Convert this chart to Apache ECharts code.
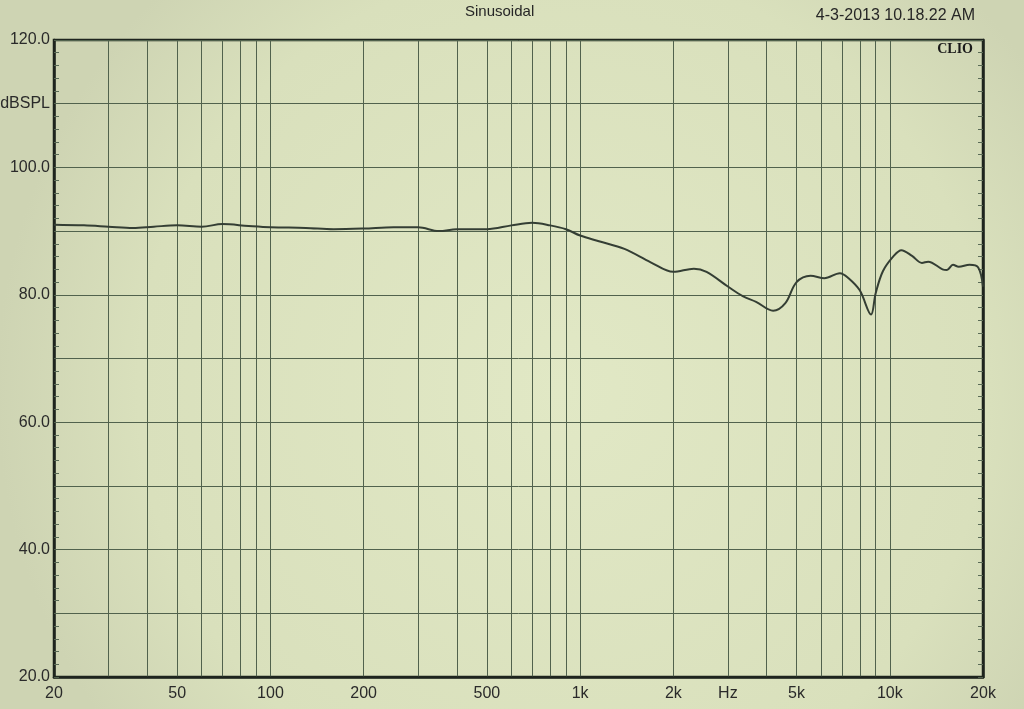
<!DOCTYPE html>
<html>
<head>
<meta charset="utf-8">
<script src="https://cdn.jsdelivr.net/npm/echarts@6/dist/echarts.min.js"></script>
<style>
html,body{margin:0;padding:0;}
#c{width:1024px;height:709px;}
</style>
</head>
<body>
<div id="c"></div>
<script>
// Frequency (Hz) and level (dB SPL)
var freqs = [20,25,30,36,42,50,60,70,85,100,130,160,200,250,300,350,400,500,600,700,800,900,1000,1150,1390,1690,2000,2330,2560,3000,3350,3700,4200,4600,5000,5550,6150,6900,7360,8000,8700,9000,9500,10300,10900,11800,12700,13300,14800,15300,16000,16700,18100,19300,20000];
var levels = [91.0,90.9,90.7,90.5,90.7,90.9,90.7,91.1,90.8,90.6,90.5,90.3,90.4,90.6,90.6,90.0,90.3,90.3,90.9,91.3,90.9,90.3,89.3,88.4,87.2,85.1,83.6,84.1,83.6,81.3,79.8,78.9,77.5,78.7,82.0,83.0,82.6,83.4,82.6,80.7,76.9,80.2,83.7,86.1,87.0,86.1,85.0,85.2,84.0,83.9,84.7,84.4,84.7,84.3,81.3];

// Vertical grid line frequencies and x tick labels
var gridFreqs = [30,40,50,60,70,80,90,100,200,300,400,500,600,700,800,900,1000,2000,3000,4000,5000,6000,7000,8000,9000,10000];
var xLabelFreqs = [20,50,100,200,500,1000,2000,3000,5000,10000,20000];
var xLabelText = ['20','50','100','200','500','1k','2k','Hz','5k','10k','20k'];

// Y axis labels
var yLabelValues = [20,40,60,80,100,110,120];
var yLabelText = ['20.0','40.0','60.0','80.0','100.0','dBSPL','120.0'];

var titleText = 'Sinusoidal';
var dateText = '4-3-2013 10.18.22 AM';
var brandText = 'CLIO';

var chart = echarts.init(document.getElementById('c'), null, {renderer:'canvas'});
var pts = freqs.map(function(f,i){return [f, levels[i]];});
var gridColor = '#51624d';
var inkColor = '#1e241e';
var labelFont = 'Liberation Sans, Arial, sans-serif';

var yCommon = {
  type:'value', min:20, max:120, interval:10,
  axisLine:{show:true, lineStyle:{color:inkColor, width:2.5}},
  axisTick:{show:true, inside:true, length:5, lineStyle:{color:gridColor}},
  minorTick:{show:true, splitNumber:5, length:5, lineStyle:{color:'#5a6b56', width:1}},
  splitLine:{show:true, lineStyle:{color:gridColor, width:1}}
};

chart.setOption({
  animation:false,
  backgroundColor:{type:'radial', x:0.55, y:0.55, r:0.8, colorStops:[{offset:0,color:'#e1e8c5'},{offset:0.75,color:'#d9e0bc'},{offset:1,color:'#ced4b3'}]},
  grid:{left:54, right:41, top:40, bottom:32, show:true, borderColor:inkColor, borderWidth:2.5, backgroundColor:'transparent', containLabel:false, outerBoundsMode:'none'},
  xAxis:{
    type:'log', logBase:10, min:20, max:20000,
    axisLine:{show:true, lineStyle:{color:inkColor, width:2.5}},
    axisTick:{show:false, customValues:gridFreqs},
    splitLine:{show:true, lineStyle:{color:gridColor, width:1}},
    axisLabel:{
      customValues:xLabelFreqs,
      margin:9, fontFamily:labelFont, fontSize:16, color:'#2a2a2a',
      formatter:function(v){var i=xLabelFreqs.indexOf(Math.round(v)); return i>=0?xLabelText[i]:'';}
    }
  },
  yAxis:[
    Object.assign({}, yCommon, {
      position:'left',
      axisLabel:{
        margin:4, fontFamily:labelFont, fontSize:16, color:'#2a2a2a',
        formatter:function(v){var i=yLabelValues.indexOf(Math.round(v)); return i>=0?yLabelText[i]:'';}
      }
    }),
    Object.assign({}, yCommon, {
      position:'right',
      splitLine:{show:false},
      axisLabel:{show:false}
    })
  ],
  graphic:[
    {type:'text', x:465, y:4, style:{text:titleText, font:'15px "Liberation Sans", Arial, sans-serif', fill:'#262626'}},
    {type:'text', right:49, top:8, style:{text:dateText, font:'16px "Liberation Sans", Arial, sans-serif', fill:'#262626'}},
    {type:'text', right:51, top:42, style:{text:brandText, font:'bold 14px "Liberation Serif", "DejaVu Serif", serif', fill:'#1a1a1a'}, z:10}
  ],
  series:[{
    type:'line', data:pts, smooth:0.35, showSymbol:false, symbol:'none',
    lineStyle:{color:'#343e34', width:2}, z:5
  }]
});
</script>
</body>
</html>
